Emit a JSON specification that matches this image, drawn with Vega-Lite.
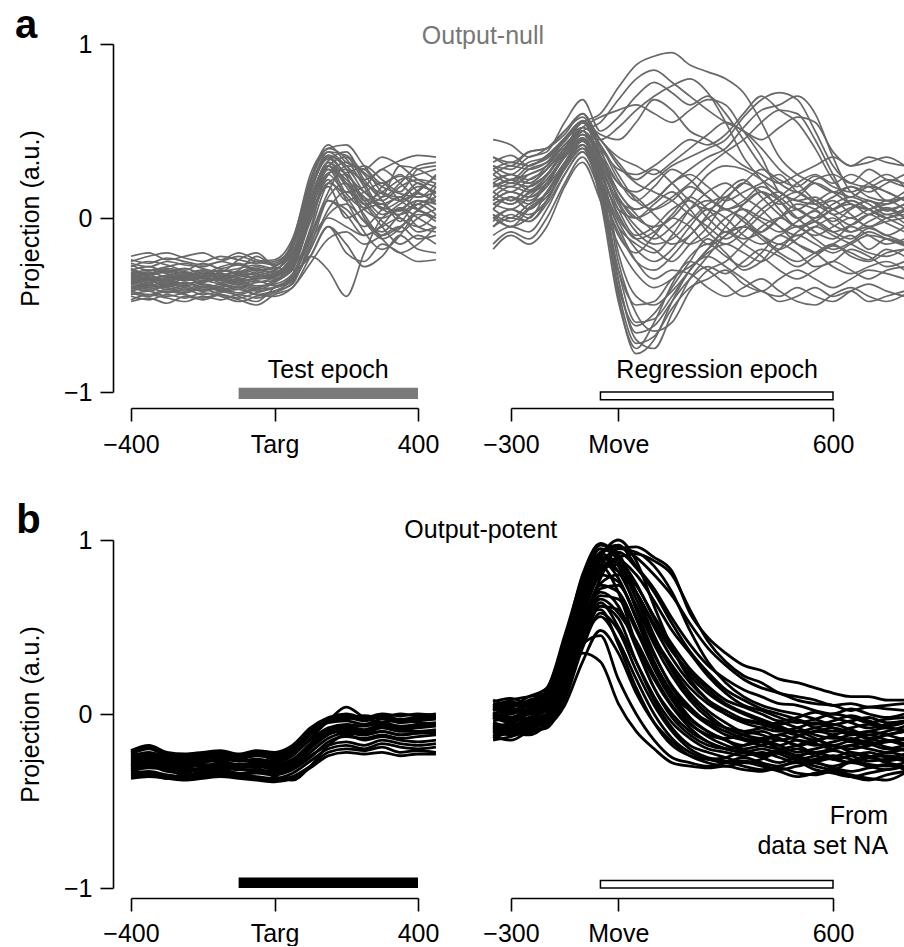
{
  "$schema": "https://vega.github.io/schema/vega-lite/v6.json",
  "background": "white",
  "padding": {"left": 15, "top": 6, "right": 0, "bottom": 0},
  "config": {
    "view": {"stroke": null},
    "font": "Liberation Sans",
    "axis": {
      "grid": false,
      "domainColor": "#000",
      "tickColor": "#000",
      "labelColor": "#000",
      "titleColor": "#000",
      "labelFont": "Liberation Sans",
      "titleFont": "Liberation Sans",
      "labelFontSize": 25,
      "tickSize": 13,
      "domainWidth": 1.6,
      "tickWidth": 1.6,
      "labelFlush": false,
      "labelOverlap": false,
      "titleFontWeight": "normal"
    },
    "text": {"font": "Liberation Sans"}
  },
  "datasets": {
    "gridL": [
      {"k": 1, "t": -400}, {"k": 2, "t": -350}, {"k": 3, "t": -300}, {"k": 4, "t": -250}, {"k": 5, "t": -200}, {"k": 6, "t": -150},
      {"k": 7, "t": -100}, {"k": 8, "t": -50}, {"k": 9, "t": 0}, {"k": 10, "t": 50}, {"k": 11, "t": 100}, {"k": 12, "t": 150},
      {"k": 13, "t": 200}, {"k": 14, "t": 250}, {"k": 15, "t": 300}, {"k": 16, "t": 350}, {"k": 17, "t": 400}, {"k": 18, "t": 450}
    ],
    "gridR": [
      {"k": 1, "t": -350}, {"k": 2, "t": -300}, {"k": 3, "t": -250}, {"k": 4, "t": -200}, {"k": 5, "t": -150}, {"k": 6, "t": -100},
      {"k": 7, "t": -50}, {"k": 8, "t": 0}, {"k": 9, "t": 50}, {"k": 10, "t": 100}, {"k": 11, "t": 150}, {"k": 12, "t": 200},
      {"k": 13, "t": 250}, {"k": 14, "t": 300}, {"k": 15, "t": 350}, {"k": 16, "t": 400}, {"k": 17, "t": 450}, {"k": 18, "t": 500},
      {"k": 19, "t": 550}, {"k": 20, "t": 600}, {"k": 21, "t": 650}, {"k": 22, "t": 700}, {"k": 23, "t": 750}, {"k": 24, "t": 800}
    ],
    "nullTarg": [
      {"id": "n01", "v": [-0.30,-0.33,-0.31,-0.34,-0.30,-0.33,-0.31,-0.28,-0.30,-0.15,0.22,0.38,0.30,0.22,0.28,0.33,0.36,0.35]},
      {"id": "n02", "v": [-0.36,-0.34,-0.38,-0.35,-0.37,-0.34,-0.36,-0.35,-0.33,-0.22,0.15,0.34,0.25,0.15,0.10,0.18,0.22,0.20]},
      {"id": "n03", "v": [-0.40,-0.42,-0.39,-0.41,-0.38,-0.40,-0.43,-0.40,-0.37,-0.28,0.02,0.30,0.35,0.20,0.05,0.02,0.08,0.12]},
      {"id": "n04", "v": [-0.28,-0.25,-0.27,-0.30,-0.26,-0.29,-0.27,-0.30,-0.28,-0.14,0.25,0.40,0.42,0.30,0.20,0.25,0.15,0.10]},
      {"id": "n05", "v": [-0.33,-0.35,-0.33,-0.31,-0.34,-0.36,-0.33,-0.32,-0.35,-0.24,0.10,0.32,0.20,0.05,0.00,0.05,0.10,0.08]},
      {"id": "n06", "v": [-0.45,-0.47,-0.44,-0.46,-0.43,-0.45,-0.48,-0.45,-0.42,-0.35,-0.08,0.20,0.25,0.10,-0.02,-0.08,0.00,0.05]},
      {"id": "n07", "v": [-0.38,-0.36,-0.39,-0.37,-0.40,-0.38,-0.36,-0.39,-0.38,-0.32,-0.06,0.25,0.15,0.18,0.28,0.20,0.12,0.15]},
      {"id": "n08", "v": [-0.25,-0.22,-0.20,-0.23,-0.25,-0.22,-0.24,-0.26,-0.25,-0.16,0.18,0.36,0.28,0.10,0.15,0.22,0.25,0.28]},
      {"id": "n09", "v": [-0.32,-0.30,-0.32,-0.35,-0.33,-0.30,-0.32,-0.34,-0.33,-0.28,-0.12,0.10,0.05,-0.05,0.05,0.12,0.05,0.00]},
      {"id": "n10", "v": [-0.42,-0.40,-0.43,-0.41,-0.44,-0.42,-0.40,-0.44,-0.45,-0.40,-0.26,-0.12,-0.08,-0.15,-0.10,-0.05,-0.12,-0.10]},
      {"id": "n11", "v": [-0.35,-0.37,-0.35,-0.38,-0.36,-0.33,-0.30,-0.22,-0.28,-0.30,-0.22,-0.05,-0.20,-0.25,-0.15,-0.20,-0.25,-0.24]},
      {"id": "n12", "v": [-0.37,-0.35,-0.36,-0.34,-0.38,-0.40,-0.45,-0.48,-0.40,-0.35,-0.22,-0.30,-0.45,-0.20,0.00,0.05,-0.05,-0.08]},
      {"id": "n13", "v": [-0.48,-0.46,-0.49,-0.45,-0.47,-0.44,-0.46,-0.43,-0.40,-0.36,-0.18,0.05,0.15,0.08,-0.05,-0.15,-0.10,-0.15]},
      {"id": "n14", "v": [-0.30,-0.28,-0.31,-0.29,-0.32,-0.28,-0.26,-0.30,-0.31,-0.22,0.12,0.30,0.18,0.02,-0.10,-0.05,0.02,0.00]},
      {"id": "n15", "v": [-0.34,-0.32,-0.30,-0.33,-0.31,-0.35,-0.37,-0.34,-0.32,-0.26,0.05,0.25,0.32,0.25,0.10,0.00,-0.05,0.02]},
      {"id": "n16", "v": [-0.27,-0.30,-0.28,-0.26,-0.29,-0.31,-0.24,-0.20,-0.27,-0.20,0.08,0.28,0.10,-0.08,-0.18,-0.10,0.05,0.10]},
      {"id": "n17", "v": [-0.39,-0.41,-0.38,-0.40,-0.42,-0.39,-0.37,-0.40,-0.36,-0.30,0.00,0.22,0.10,0.15,0.20,0.10,0.05,0.18]},
      {"id": "n18", "v": [-0.44,-0.42,-0.45,-0.43,-0.41,-0.44,-0.47,-0.50,-0.44,-0.40,-0.22,-0.05,-0.15,-0.28,-0.22,-0.10,-0.18,-0.20]},
      {"id": "n19", "v": [-0.31,-0.34,-0.36,-0.33,-0.35,-0.32,-0.35,-0.33,-0.30,-0.18,0.16,0.35,0.24,0.08,0.12,0.30,0.28,0.22]},
      {"id": "n20", "v": [-0.36,-0.38,-0.34,-0.36,-0.33,-0.37,-0.35,-0.37,-0.34,-0.28,0.02,0.18,0.00,0.05,0.08,-0.02,0.10,0.05]},
      {"id": "n21", "v": [-0.22,-0.20,-0.24,-0.22,-0.20,-0.24,-0.20,-0.24,-0.26,-0.14,0.20,0.40,0.34,0.18,0.05,0.10,0.18,0.15]},
      {"id": "n22", "v": [-0.41,-0.39,-0.40,-0.42,-0.39,-0.41,-0.39,-0.42,-0.40,-0.36,-0.16,0.12,0.20,0.00,-0.12,-0.20,-0.15,-0.05]},
      {"id": "n23", "v": [-0.33,-0.31,-0.34,-0.32,-0.30,-0.34,-0.32,-0.29,-0.32,-0.24,0.08,0.30,0.22,0.12,0.02,0.08,0.15,0.25]},
      {"id": "n24", "v": [-0.38,-0.40,-0.37,-0.39,-0.37,-0.35,-0.38,-0.36,-0.39,-0.33,-0.10,0.15,0.30,0.28,0.15,0.12,0.20,0.12]},
      {"id": "n25", "v": [-0.29,-0.32,-0.30,-0.32,-0.34,-0.31,-0.29,-0.27,-0.29,-0.20,0.10,0.33,0.38,0.22,0.12,0.20,0.30,0.32]},
      {"id": "n26", "v": [-0.43,-0.45,-0.42,-0.44,-0.46,-0.43,-0.41,-0.44,-0.42,-0.38,-0.14,0.00,-0.05,-0.10,-0.05,0.00,-0.08,-0.05]},
      {"id": "n27", "v": [-0.35,-0.33,-0.36,-0.34,-0.32,-0.35,-0.33,-0.35,-0.34,-0.22,0.14,0.36,0.30,0.20,0.14,0.10,0.16,0.24]},
      {"id": "n28", "v": [-0.26,-0.28,-0.25,-0.27,-0.28,-0.25,-0.27,-0.25,-0.24,-0.12,0.22,0.42,0.32,0.28,0.35,0.30,0.22,0.18]},
      {"id": "n29", "v": [-0.40,-0.38,-0.41,-0.39,-0.42,-0.40,-0.38,-0.41,-0.37,-0.27,0.04,0.26,0.28,0.15,0.08,0.12,0.05,-0.02]},
      {"id": "n30", "v": [-0.32,-0.35,-0.33,-0.36,-0.34,-0.32,-0.34,-0.31,-0.33,-0.23,0.08,0.30,0.14,0.06,0.18,0.24,0.20,0.14]},
      {"id": "n31", "v": [-0.47,-0.44,-0.46,-0.48,-0.45,-0.47,-0.44,-0.46,-0.43,-0.37,-0.18,0.02,0.08,-0.02,-0.12,-0.06,0.04,0.00]},
      {"id": "n32", "v": [-0.30,-0.32,-0.29,-0.31,-0.33,-0.30,-0.32,-0.30,-0.31,-0.21,0.10,0.32,0.26,0.30,0.22,0.15,0.28,0.30]},
      {"id": "n33", "v": [-0.37,-0.39,-0.36,-0.38,-0.36,-0.38,-0.40,-0.37,-0.36,-0.29,-0.02,0.20,0.12,-0.02,-0.08,0.02,0.08,0.02]},
      {"id": "n34", "v": [-0.24,-0.26,-0.23,-0.25,-0.27,-0.25,-0.22,-0.25,-0.27,-0.17,0.16,0.38,0.36,0.26,0.18,0.14,0.12,0.20]},
      {"id": "n35", "v": [-0.42,-0.44,-0.41,-0.43,-0.40,-0.42,-0.44,-0.41,-0.40,-0.34,-0.12,0.10,0.02,-0.10,-0.04,0.06,0.00,-0.06]},
      {"id": "n36", "v": [-0.34,-0.36,-0.35,-0.33,-0.36,-0.34,-0.31,-0.33,-0.35,-0.25,0.06,0.28,0.20,0.12,0.06,0.04,0.14,0.08]}
    ],
    "nullMove": [
      {"id": "u1", "v": [0.20,0.25,0.22,0.30,0.45,0.55,0.60,0.75,0.88,0.93,0.95,0.88,0.84,0.80,0.72,0.55,0.35,0.25,0.20,0.15,0.18,0.12,0.10,0.15]},
      {"id": "u2", "v": [0.15,0.10,0.18,0.25,0.40,0.50,0.55,0.68,0.80,0.85,0.78,0.70,0.62,0.55,0.50,0.40,0.28,0.20,0.10,0.05,0.10,0.05,0.00,0.05]},
      {"id": "u3", "v": [0.30,0.28,0.35,0.38,0.55,0.68,0.50,0.58,0.70,0.78,0.72,0.65,0.70,0.60,0.45,0.30,0.20,0.15,0.22,0.25,0.20,0.28,0.22,0.18]},
      {"id": "u4", "v": [0.05,0.12,0.08,0.20,0.35,0.48,0.45,0.52,0.62,0.70,0.76,0.80,0.72,0.55,0.35,0.22,0.10,0.00,0.05,0.10,0.02,-0.05,0.00,0.02]},
      {"id": "u5", "v": [0.25,0.20,0.28,0.32,0.42,0.52,0.58,0.62,0.65,0.60,0.55,0.62,0.68,0.65,0.50,0.35,0.15,0.10,0.08,0.12,0.18,0.15,0.20,0.25]},
      {"id": "u6", "v": [0.10,0.15,0.12,0.18,0.38,0.55,0.48,0.45,0.55,0.68,0.62,0.50,0.45,0.38,0.30,0.25,0.20,0.25,0.30,0.35,0.30,0.32,0.35,0.30]},
      {"id": "v1", "v": [0.18,0.22,0.20,0.28,0.40,0.50,0.35,0.20,0.15,0.22,0.30,0.35,0.40,0.45,0.58,0.68,0.72,0.68,0.50,0.30,0.20,0.18,0.22,0.20]},
      {"id": "v2", "v": [0.08,0.05,0.12,0.22,0.35,0.45,0.30,0.10,0.05,0.10,0.20,0.28,0.35,0.40,0.52,0.62,0.65,0.70,0.60,0.35,0.15,0.10,0.08,0.12]},
      {"id": "v3", "v": [0.28,0.32,0.30,0.35,0.45,0.55,0.40,0.28,0.25,0.30,0.38,0.45,0.42,0.48,0.60,0.70,0.62,0.55,0.40,0.22,0.12,0.18,0.15,0.10]},
      {"id": "v4", "v": [-0.02,0.05,0.00,0.15,0.30,0.42,0.25,0.05,0.00,0.05,0.12,0.20,0.30,0.38,0.45,0.55,0.62,0.60,0.45,0.25,0.08,0.05,0.10,0.05]},
      {"id": "v5", "v": [0.35,0.30,0.38,0.40,0.48,0.60,0.45,0.35,0.30,0.25,0.32,0.40,0.48,0.55,0.50,0.45,0.52,0.58,0.55,0.38,0.30,0.35,0.32,0.30]},
      {"id": "m1", "v": [0.12,0.18,0.15,0.22,0.35,0.45,0.30,0.05,-0.10,-0.05,0.05,0.10,0.00,-0.08,0.00,0.10,0.15,0.05,0.00,0.05,0.08,0.02,0.05,0.00]},
      {"id": "m2", "v": [0.00,-0.05,0.05,0.12,0.28,0.40,0.20,-0.05,-0.15,-0.20,-0.10,0.05,0.15,0.20,0.12,0.05,-0.05,-0.10,-0.05,0.00,-0.08,-0.05,-0.10,-0.05]},
      {"id": "m3", "v": [0.22,0.25,0.20,0.28,0.40,0.48,0.35,0.15,0.05,0.10,0.20,0.25,0.18,0.10,0.15,0.20,0.25,0.15,0.10,0.15,0.12,0.18,0.10,0.12]},
      {"id": "m4", "v": [0.45,0.42,0.35,0.40,0.50,0.58,0.40,0.10,-0.05,-0.12,-0.05,0.05,0.10,0.05,0.00,-0.08,0.00,0.08,0.05,-0.02,0.05,0.10,0.05,0.08]},
      {"id": "m5", "v": [-0.10,-0.05,-0.08,0.05,0.25,0.38,0.18,-0.10,-0.20,-0.10,0.00,-0.05,-0.15,-0.05,0.08,0.15,0.10,0.00,-0.08,-0.12,-0.05,-0.10,-0.15,-0.12]},
      {"id": "m6", "v": [0.15,0.10,0.18,0.25,0.38,0.50,0.38,0.20,0.12,0.02,-0.08,-0.15,-0.10,0.00,0.05,0.00,-0.05,-0.15,-0.20,-0.15,-0.10,-0.18,-0.12,-0.15]},
      {"id": "m7", "v": [0.05,0.12,0.10,0.18,0.32,0.45,0.28,0.00,-0.12,-0.18,-0.25,-0.15,-0.05,0.10,0.20,0.15,0.08,0.12,0.20,0.15,0.08,0.05,0.00,-0.05]},
      {"id": "m8", "v": [0.30,0.25,0.32,0.35,0.45,0.52,0.45,0.30,0.20,0.15,0.10,0.02,-0.05,-0.12,-0.05,0.05,0.12,0.20,0.25,0.20,0.25,0.20,0.15,0.10]},
      {"id": "m9", "v": [-0.15,-0.08,-0.12,0.00,0.20,0.35,0.15,-0.08,-0.25,-0.30,-0.22,-0.10,0.00,0.05,-0.02,-0.10,-0.18,-0.12,-0.05,-0.10,-0.15,-0.20,-0.22,-0.18]},
      {"id": "m10", "v": [0.18,0.22,0.25,0.30,0.42,0.50,0.32,0.12,0.00,-0.05,0.00,0.12,0.25,0.30,0.28,0.22,0.15,0.10,0.12,0.05,0.00,0.05,0.08,0.12]},
      {"id": "m11", "v": [0.20,0.15,0.22,0.28,0.40,0.52,0.42,0.25,0.10,0.05,0.10,0.18,0.12,0.05,0.10,0.18,0.12,0.05,0.10,0.02,0.06,0.10,0.04,0.08]},
      {"id": "m12", "v": [0.08,0.12,0.05,0.15,0.32,0.46,0.30,0.08,-0.08,-0.15,-0.12,-0.02,0.08,0.12,0.05,-0.02,-0.08,-0.02,0.04,-0.04,-0.08,-0.02,0.02,-0.03]},
      {"id": "m13", "v": [0.28,0.22,0.30,0.34,0.44,0.55,0.42,0.22,0.10,0.18,0.28,0.22,0.12,0.05,0.08,0.15,0.05,-0.05,-0.02,0.05,0.10,0.05,0.00,0.04]},
      {"id": "m14", "v": [-0.05,0.02,-0.02,0.10,0.30,0.44,0.26,0.02,-0.12,-0.08,0.02,0.12,0.05,-0.05,-0.12,-0.08,0.00,0.05,-0.02,-0.08,-0.04,0.02,-0.03,-0.08]},
      {"id": "m15", "v": [0.15,0.20,0.18,0.25,0.38,0.50,0.36,0.15,0.02,-0.08,-0.15,-0.10,0.02,0.15,0.22,0.12,0.02,-0.05,0.00,0.08,0.12,0.08,0.02,0.05]},
      {"id": "m16", "v": [0.32,0.36,0.30,0.36,0.46,0.56,0.45,0.32,0.22,0.28,0.20,0.10,0.05,0.12,0.20,0.28,0.22,0.18,0.24,0.18,0.15,0.20,0.25,0.18]},
      {"id": "m17", "v": [0.02,-0.02,0.06,0.14,0.30,0.42,0.22,-0.02,-0.18,-0.25,-0.18,-0.05,0.05,0.00,-0.10,-0.15,-0.10,-0.05,-0.12,-0.18,-0.14,-0.08,-0.12,-0.16]},
      {"id": "m18", "v": [0.12,0.08,0.14,0.20,0.36,0.48,0.34,0.12,0.00,0.08,0.15,0.05,-0.08,-0.15,-0.08,0.02,0.10,0.15,0.08,0.02,-0.04,0.02,0.06,0.00]},
      {"id": "d1", "v": [0.10,0.15,0.12,0.20,0.35,0.45,0.20,-0.45,-0.78,-0.70,-0.48,-0.30,-0.20,-0.15,-0.20,-0.25,-0.18,-0.10,-0.15,-0.20,-0.15,-0.10,-0.12,-0.15]},
      {"id": "d2", "v": [0.20,0.18,0.25,0.30,0.42,0.50,0.25,-0.35,-0.70,-0.75,-0.55,-0.35,-0.22,-0.10,-0.05,-0.12,-0.20,-0.25,-0.20,-0.15,-0.22,-0.25,-0.20,-0.18]},
      {"id": "d3", "v": [0.00,0.05,0.02,0.10,0.28,0.40,0.12,-0.40,-0.62,-0.55,-0.40,-0.25,-0.12,-0.20,-0.30,-0.25,-0.15,-0.20,-0.28,-0.25,-0.18,-0.22,-0.28,-0.25]},
      {"id": "d4", "v": [0.25,0.30,0.28,0.32,0.45,0.55,0.30,-0.25,-0.55,-0.65,-0.60,-0.42,-0.30,-0.25,-0.15,-0.05,0.00,-0.05,-0.10,-0.05,0.00,-0.05,-0.02,0.00]},
      {"id": "d5", "v": [0.12,0.08,0.15,0.22,0.36,0.46,0.18,-0.42,-0.72,-0.68,-0.52,-0.40,-0.35,-0.30,-0.38,-0.42,-0.35,-0.30,-0.35,-0.40,-0.35,-0.30,-0.32,-0.35]},
      {"id": "d6", "v": [-0.05,0.00,-0.02,0.08,0.25,0.38,0.15,-0.30,-0.50,-0.48,-0.35,-0.28,-0.22,-0.28,-0.35,-0.42,-0.45,-0.40,-0.45,-0.48,-0.42,-0.38,-0.42,-0.45]},
      {"id": "d7", "v": [0.35,0.32,0.38,0.40,0.50,0.60,0.35,-0.20,-0.45,-0.50,-0.42,-0.30,-0.18,-0.08,-0.15,-0.22,-0.30,-0.35,-0.30,-0.25,-0.30,-0.35,-0.30,-0.28]},
      {"id": "d8", "v": [0.08,0.12,0.05,0.15,0.30,0.42,0.10,-0.48,-0.75,-0.60,-0.38,-0.22,-0.15,-0.22,-0.28,-0.20,-0.10,-0.15,-0.20,-0.28,-0.32,-0.28,-0.25,-0.30]},
      {"id": "d9", "v": [0.18,0.22,0.16,0.24,0.38,0.48,0.22,-0.30,-0.60,-0.58,-0.45,-0.30,-0.18,-0.10,-0.05,-0.10,-0.15,-0.08,-0.02,-0.08,-0.12,-0.06,-0.10,-0.14]},
      {"id": "d10", "v": [0.05,0.00,0.08,0.14,0.30,0.42,0.16,-0.36,-0.66,-0.62,-0.48,-0.35,-0.28,-0.32,-0.25,-0.18,-0.22,-0.28,-0.22,-0.16,-0.20,-0.24,-0.18,-0.22]},
      {"id": "b1", "v": [-0.18,-0.10,-0.15,-0.05,0.18,0.32,0.10,-0.15,-0.32,-0.40,-0.35,-0.25,-0.30,-0.38,-0.45,-0.42,-0.48,-0.45,-0.40,-0.45,-0.42,-0.48,-0.45,-0.42]},
      {"id": "b2", "v": [0.02,-0.05,0.00,0.10,0.30,0.45,0.22,-0.05,-0.25,-0.35,-0.30,-0.32,-0.40,-0.45,-0.40,-0.35,-0.42,-0.48,-0.50,-0.44,-0.40,-0.45,-0.48,-0.44]}
    ],
    "potentTarg": [
      {"id": "p01", "v": [-0.21,-0.18,-0.22,-0.23,-0.22,-0.21,-0.23,-0.21,-0.22,-0.18,-0.08,-0.02,0.00,-0.02,0.00,-0.01,0.00,-0.01]},
      {"id": "p02", "v": [-0.25,-0.23,-0.26,-0.27,-0.25,-0.24,-0.26,-0.24,-0.25,-0.22,-0.12,-0.05,-0.04,-0.06,-0.03,-0.05,-0.04,-0.03]},
      {"id": "p03", "v": [-0.30,-0.28,-0.30,-0.31,-0.29,-0.30,-0.31,-0.29,-0.30,-0.27,-0.18,-0.10,-0.08,-0.10,-0.07,-0.09,-0.08,-0.07]},
      {"id": "p04", "v": [-0.34,-0.33,-0.35,-0.36,-0.34,-0.33,-0.35,-0.34,-0.35,-0.32,-0.25,-0.16,-0.13,-0.14,-0.12,-0.14,-0.13,-0.12]},
      {"id": "p05", "v": [-0.36,-0.35,-0.37,-0.37,-0.36,-0.35,-0.36,-0.37,-0.38,-0.36,-0.30,-0.22,-0.20,-0.21,-0.19,-0.22,-0.21,-0.22]},
      {"id": "p06", "v": [-0.27,-0.25,-0.28,-0.29,-0.28,-0.26,-0.27,-0.27,-0.28,-0.24,-0.14,-0.04,0.04,-0.02,-0.05,-0.03,-0.05,-0.06]},
      {"id": "p07", "v": [-0.23,-0.20,-0.24,-0.25,-0.24,-0.22,-0.24,-0.22,-0.24,-0.20,-0.10,-0.03,-0.02,-0.04,-0.01,-0.03,-0.02,-0.02]},
      {"id": "p08", "v": [-0.32,-0.30,-0.33,-0.34,-0.31,-0.31,-0.32,-0.32,-0.33,-0.30,-0.22,-0.14,-0.11,-0.12,-0.10,-0.12,-0.11,-0.10]},
      {"id": "p09", "v": [-0.29,-0.27,-0.29,-0.30,-0.30,-0.28,-0.30,-0.31,-0.36,-0.38,-0.30,-0.18,-0.12,-0.15,-0.13,-0.15,-0.16,-0.15]},
      {"id": "p10", "v": [-0.26,-0.24,-0.27,-0.28,-0.26,-0.25,-0.27,-0.26,-0.27,-0.23,-0.15,-0.08,-0.06,-0.07,-0.05,-0.07,-0.06,-0.05]},
      {"id": "p11", "v": [-0.33,-0.31,-0.32,-0.35,-0.33,-0.32,-0.34,-0.33,-0.34,-0.31,-0.24,-0.18,-0.16,-0.18,-0.15,-0.17,-0.18,-0.17]},
      {"id": "p12", "v": [-0.24,-0.22,-0.25,-0.26,-0.25,-0.23,-0.25,-0.23,-0.26,-0.21,-0.11,-0.04,-0.03,-0.01,-0.02,0.00,-0.01,0.00]},
      {"id": "p13", "v": [-0.31,-0.29,-0.31,-0.33,-0.32,-0.30,-0.31,-0.30,-0.32,-0.29,-0.20,-0.12,-0.09,-0.11,-0.08,-0.10,-0.10,-0.09]},
      {"id": "p14", "v": [-0.35,-0.34,-0.36,-0.36,-0.35,-0.34,-0.35,-0.36,-0.37,-0.34,-0.27,-0.20,-0.18,-0.20,-0.17,-0.19,-0.20,-0.19]},
      {"id": "p15", "v": [-0.28,-0.26,-0.28,-0.30,-0.27,-0.27,-0.29,-0.28,-0.29,-0.26,-0.17,-0.09,-0.07,-0.09,-0.06,-0.08,-0.07,-0.06]},
      {"id": "p16", "v": [-0.22,-0.19,-0.23,-0.24,-0.23,-0.22,-0.24,-0.22,-0.23,-0.19,-0.09,-0.03,-0.01,-0.03,-0.02,-0.04,-0.03,-0.02]},
      {"id": "p17", "v": [-0.37,-0.36,-0.37,-0.38,-0.37,-0.36,-0.37,-0.38,-0.39,-0.37,-0.31,-0.24,-0.22,-0.23,-0.22,-0.24,-0.23,-0.23]},
      {"id": "p18", "v": [-0.30,-0.29,-0.31,-0.32,-0.31,-0.29,-0.30,-0.30,-0.31,-0.28,-0.19,-0.11,-0.10,-0.12,-0.10,-0.12,-0.11,-0.11]}
    ],
    "potentMove": [
      {"id": "r01", "v": [-0.05,-0.08,-0.03,0.00,0.15,0.35,0.30,0.06,-0.10,-0.20,-0.28,-0.30,-0.31,-0.30,-0.32,-0.33,-0.31,-0.34,-0.35,-0.33,-0.36,-0.38,-0.35,-0.33]},
      {"id": "r02", "v": [-0.10,-0.12,-0.08,-0.05,0.12,0.40,0.45,0.20,0.00,-0.15,-0.25,-0.28,-0.30,-0.28,-0.25,-0.28,-0.30,-0.27,-0.30,-0.32,-0.28,-0.30,-0.32,-0.30]},
      {"id": "r03", "v": [0.00,-0.03,0.02,0.05,0.25,0.55,0.60,0.40,0.15,-0.05,-0.18,-0.24,-0.26,-0.25,-0.22,-0.25,-0.28,-0.24,-0.22,-0.26,-0.28,-0.25,-0.22,-0.24]},
      {"id": "r04", "v": [-0.15,-0.13,-0.10,-0.08,0.10,0.42,0.62,0.55,0.30,0.08,-0.08,-0.18,-0.22,-0.25,-0.28,-0.26,-0.22,-0.25,-0.28,-0.30,-0.27,-0.25,-0.28,-0.30]},
      {"id": "r05", "v": [0.05,0.08,0.10,0.12,0.35,0.70,0.85,0.70,0.40,0.15,-0.02,-0.12,-0.18,-0.20,-0.18,-0.15,-0.18,-0.22,-0.20,-0.18,-0.22,-0.25,-0.22,-0.20]},
      {"id": "r06", "v": [0.08,0.05,0.10,0.15,0.45,0.78,0.97,0.92,0.70,0.45,0.25,0.10,0.00,-0.08,-0.12,-0.15,-0.12,-0.10,-0.14,-0.18,-0.15,-0.12,-0.15,-0.18]},
      {"id": "r07", "v": [-0.02,0.00,0.03,0.08,0.30,0.65,0.90,1.00,0.88,0.62,0.38,0.20,0.08,0.00,-0.05,-0.08,-0.10,-0.08,-0.05,-0.08,-0.12,-0.10,-0.08,-0.10]},
      {"id": "r08", "v": [-0.08,-0.05,-0.02,0.02,0.22,0.55,0.82,0.90,0.92,0.88,0.80,0.60,0.42,0.30,0.22,0.18,0.12,0.10,0.08,0.05,0.06,0.04,0.05,0.06]},
      {"id": "r09", "v": [0.03,0.00,0.05,0.10,0.28,0.60,0.85,0.95,0.96,0.90,0.82,0.58,0.44,0.35,0.28,0.25,0.20,0.18,0.15,0.12,0.10,0.10,0.08,0.08]},
      {"id": "r10", "v": [-0.12,-0.10,-0.08,-0.04,0.18,0.50,0.75,0.80,0.70,0.50,0.32,0.18,0.08,0.02,-0.03,-0.05,-0.08,-0.12,-0.15,-0.12,-0.10,-0.14,-0.16,-0.14]},
      {"id": "r11", "v": [0.06,0.04,0.08,0.12,0.40,0.75,0.92,0.85,0.60,0.35,0.15,0.02,-0.06,-0.12,-0.15,-0.18,-0.20,-0.18,-0.15,-0.18,-0.20,-0.18,-0.15,-0.17]},
      {"id": "r12", "v": [-0.06,-0.09,-0.04,0.00,0.20,0.52,0.70,0.62,0.38,0.15,0.00,-0.10,-0.16,-0.20,-0.22,-0.24,-0.22,-0.20,-0.24,-0.26,-0.24,-0.22,-0.25,-0.27]},
      {"id": "r13", "v": [-0.14,-0.11,-0.12,-0.06,0.08,0.38,0.58,0.48,0.25,0.05,-0.10,-0.20,-0.25,-0.27,-0.30,-0.32,-0.30,-0.28,-0.32,-0.34,-0.36,-0.34,-0.32,-0.30]},
      {"id": "r14", "v": [0.02,0.06,0.04,0.10,0.32,0.68,0.88,0.78,0.55,0.30,0.12,0.02,-0.04,-0.08,-0.10,-0.12,-0.15,-0.13,-0.10,-0.12,-0.16,-0.15,-0.12,-0.10]},
      {"id": "r15", "v": [-0.04,-0.02,0.00,0.04,0.26,0.60,0.80,0.88,0.80,0.65,0.48,0.35,0.22,0.12,0.05,0.02,-0.02,-0.05,-0.03,0.00,-0.02,-0.05,-0.03,-0.02]},
      {"id": "r16", "v": [0.00,-0.04,0.02,0.06,0.22,0.52,0.78,0.95,0.93,0.85,0.70,0.48,0.30,0.18,0.10,0.05,0.02,0.00,-0.03,-0.06,-0.04,-0.02,-0.05,-0.04]},
      {"id": "r17", "v": [-0.09,-0.06,-0.05,0.00,0.16,0.48,0.66,0.58,0.42,0.22,0.05,-0.06,-0.12,-0.15,-0.20,-0.18,-0.15,-0.18,-0.22,-0.20,-0.18,-0.20,-0.22,-0.20]},
      {"id": "r18", "v": [0.07,0.09,0.06,0.14,0.42,0.80,0.98,0.90,0.75,0.55,0.38,0.22,0.12,0.05,0.00,-0.04,-0.06,-0.04,-0.08,-0.10,-0.08,-0.06,-0.08,-0.09]},
      {"id": "r19", "v": [-0.13,-0.15,-0.10,-0.07,0.05,0.30,0.48,0.35,0.12,-0.05,-0.16,-0.24,-0.28,-0.30,-0.28,-0.30,-0.33,-0.36,-0.34,-0.32,-0.35,-0.37,-0.38,-0.34]},
      {"id": "r20", "v": [-0.03,0.02,0.00,0.07,0.28,0.62,0.86,0.82,0.62,0.40,0.22,0.08,-0.02,-0.08,-0.12,-0.14,-0.12,-0.15,-0.18,-0.16,-0.14,-0.17,-0.20,-0.18]},
      {"id": "r21", "v": [0.04,0.01,0.06,0.09,0.36,0.72,0.93,0.97,0.85,0.72,0.55,0.40,0.28,0.20,0.14,0.10,0.06,0.05,0.02,0.00,0.03,0.00,-0.02,0.00]},
      {"id": "r22", "v": [-0.07,-0.10,-0.06,-0.02,0.14,0.46,0.72,0.74,0.55,0.30,0.12,-0.02,-0.10,-0.15,-0.18,-0.16,-0.20,-0.24,-0.22,-0.25,-0.28,-0.25,-0.24,-0.26]},
      {"id": "r23", "v": [-0.11,-0.08,-0.09,-0.03,0.12,0.44,0.64,0.50,0.30,0.10,-0.05,-0.14,-0.20,-0.22,-0.24,-0.22,-0.25,-0.28,-0.26,-0.24,-0.26,-0.29,-0.30,-0.28]},
      {"id": "r24", "v": [0.01,-0.02,0.03,0.07,0.30,0.66,0.92,0.96,0.90,0.80,0.68,0.52,0.38,0.28,0.20,0.15,0.12,0.08,0.06,0.05,0.02,0.04,0.03,0.02]},
      {"id": "r25", "v": [-0.05,-0.07,-0.02,0.03,0.20,0.50,0.74,0.70,0.50,0.28,0.10,-0.03,-0.10,-0.14,-0.12,-0.10,-0.14,-0.18,-0.16,-0.13,-0.15,-0.18,-0.16,-0.14]},
      {"id": "r26", "v": [0.03,0.05,0.07,0.11,0.34,0.70,0.90,0.82,0.62,0.42,0.26,0.12,0.02,-0.05,-0.10,-0.08,-0.05,-0.08,-0.12,-0.14,-0.12,-0.10,-0.12,-0.15]},
      {"id": "r27", "v": [-0.02,-0.05,0.00,0.04,0.24,0.58,0.80,0.76,0.56,0.34,0.16,0.04,-0.05,-0.10,-0.14,-0.16,-0.18,-0.15,-0.17,-0.20,-0.18,-0.16,-0.19,-0.21]},
      {"id": "r28", "v": [0.05,0.02,0.07,0.12,0.38,0.74,0.95,0.88,0.66,0.44,0.28,0.15,0.06,0.00,-0.04,-0.06,-0.09,-0.12,-0.10,-0.08,-0.11,-0.14,-0.12,-0.10]},
      {"id": "r29", "v": [-0.10,-0.07,-0.06,-0.01,0.15,0.47,0.68,0.66,0.48,0.26,0.08,-0.05,-0.13,-0.18,-0.21,-0.23,-0.21,-0.24,-0.27,-0.25,-0.22,-0.24,-0.27,-0.25]},
      {"id": "r30", "v": [0.00,0.03,0.01,0.08,0.30,0.64,0.88,0.93,0.84,0.70,0.52,0.36,0.24,0.14,0.08,0.03,0.00,-0.03,-0.06,-0.04,-0.01,-0.04,-0.07,-0.05]},
      {"id": "r31", "v": [-0.08,-0.11,-0.07,-0.03,0.13,0.42,0.56,0.42,0.20,0.00,-0.14,-0.22,-0.26,-0.28,-0.27,-0.29,-0.32,-0.30,-0.28,-0.31,-0.33,-0.31,-0.29,-0.32]},
      {"id": "r32", "v": [0.04,0.07,0.05,0.10,0.33,0.69,0.90,0.86,0.70,0.52,0.36,0.24,0.14,0.06,0.01,-0.03,-0.07,-0.10,-0.08,-0.06,-0.09,-0.12,-0.10,-0.07]},
      {"id": "r33", "v": [-0.13,-0.10,-0.11,-0.05,0.10,0.40,0.62,0.60,0.40,0.20,0.04,-0.08,-0.16,-0.20,-0.22,-0.20,-0.23,-0.26,-0.24,-0.21,-0.24,-0.27,-0.26,-0.23]},
      {"id": "r34", "v": [-0.01,-0.04,0.01,0.05,0.27,0.62,0.84,0.86,0.74,0.56,0.40,0.26,0.16,0.08,0.04,0.00,-0.04,-0.02,0.01,-0.02,-0.05,-0.08,-0.06,-0.04]}
    ]
  },
  "columns": 2,
  "bounds": "flush",
  "spacing": {"row": 148, "column": 93},
  "concat": [
    {
      "width": 287,
      "height": 348,
      "layer": [
        {
          "data": {"name": "nullTarg"},
          "transform": [
            {"flatten": ["v"]},
            {"window": [{"op": "row_number", "as": "k"}], "groupby": ["id"]},
            {"lookup": "k", "from": {"data": {"name": "gridL"}, "key": "k", "fields": ["t"]}}
          ],
          "mark": {"type": "line", "interpolate": "monotone", "color": "#686868", "strokeWidth": 1.7},
          "encoding": {
            "x": {"field": "t", "type": "quantitative", "scale": {"domain": [-400, 400], "nice": false},
                  "axis": {"values": [-400, 0, 400], "labelExpr": "datum.value === 0 ? 'Targ' : datum.label", "title": null, "offset": 16, "labelPadding": 11}},
            "y": {"field": "v", "type": "quantitative", "scale": {"domain": [-1, 1], "nice": false},
                  "axis": {"values": [-1, 0, 1], "format": ".0f", "title": "Projection (a.u.)", "offset": 18, "labelPadding": 8, "titleFontSize": 25, "titlePadding": 20}},
            "detail": {"field": "id"}
          }
        },
        {
          "data": {"values": [{"t0": -100, "t1": 400}]},
          "mark": {"type": "rect", "color": "#7a7a7a"},
          "encoding": {"x": {"field": "t0", "type": "quantitative"}, "x2": {"field": "t1"}, "y": {"datum": -0.975}, "y2": {"datum": -1.04}}
        },
        {
          "data": {"values": [{}]},
          "mark": {"type": "text", "text": "Test epoch", "fontSize": 25, "baseline": "alphabetic", "align": "center", "color": "#000"},
          "encoding": {"x": {"datum": 150}, "y": {"datum": -0.92}}
        },
        {
          "data": {"values": [{}]},
          "mark": {"type": "text", "text": "Output-null", "fontSize": 25, "baseline": "alphabetic", "align": "center", "color": "#777"},
          "encoding": {"x": {"datum": 581}, "y": {"datum": 1.0}}
        },
        {
          "data": {"values": [{}]},
          "mark": {"type": "text", "text": "a", "fontSize": 40, "fontWeight": "bold", "baseline": "alphabetic", "align": "left", "color": "#000"},
          "encoding": {"x": {"datum": -723}, "y": {"datum": 1.034}}
        }
      ]
    },
    {
      "width": 322,
      "height": 348,
      "layer": [
        {
          "data": {"name": "nullMove"},
          "transform": [
            {"flatten": ["v"]},
            {"window": [{"op": "row_number", "as": "k"}], "groupby": ["id"]},
            {"lookup": "k", "from": {"data": {"name": "gridR"}, "key": "k", "fields": ["t"]}}
          ],
          "mark": {"type": "line", "interpolate": "monotone", "color": "#686868", "strokeWidth": 1.7},
          "encoding": {
            "x": {"field": "t", "type": "quantitative", "scale": {"domain": [-300, 600], "nice": false},
                  "axis": {"values": [-300, 0, 600], "labelExpr": "datum.value === 0 ? 'Move' : datum.label", "title": null, "offset": 16, "labelPadding": 11}},
            "y": {"field": "v", "type": "quantitative", "scale": {"domain": [-1, 1], "nice": false}, "axis": null},
            "detail": {"field": "id"}
          }
        },
        {
          "data": {"values": [{"t0": -50, "t1": 600}]},
          "mark": {"type": "rect", "fill": "#fff", "stroke": "#000", "strokeWidth": 1.5},
          "encoding": {"x": {"field": "t0", "type": "quantitative"}, "x2": {"field": "t1"}, "y": {"datum": -1.0}, "y2": {"datum": -1.045}}
        },
        {
          "data": {"values": [{}]},
          "mark": {"type": "text", "text": "Regression epoch", "fontSize": 25, "baseline": "alphabetic", "align": "center", "color": "#000"},
          "encoding": {"x": {"datum": 276}, "y": {"datum": -0.92}}
        }
      ]
    },
    {
      "width": 287,
      "height": 348,
      "layer": [
        {
          "data": {"name": "potentTarg"},
          "transform": [
            {"flatten": ["v"]},
            {"window": [{"op": "row_number", "as": "k"}], "groupby": ["id"]},
            {"lookup": "k", "from": {"data": {"name": "gridL"}, "key": "k", "fields": ["t"]}}
          ],
          "mark": {"type": "line", "interpolate": "monotone", "color": "#000", "strokeWidth": 2.8},
          "encoding": {
            "x": {"field": "t", "type": "quantitative", "scale": {"domain": [-400, 400], "nice": false},
                  "axis": {"values": [-400, 0, 400], "labelExpr": "datum.value === 0 ? 'Targ' : datum.label", "title": null, "offset": 10, "labelPadding": 10}},
            "y": {"field": "v", "type": "quantitative", "scale": {"domain": [-1, 1], "nice": false},
                  "axis": {"values": [-1, 0, 1], "format": ".0f", "title": "Projection (a.u.)", "offset": 18, "labelPadding": 8, "titleFontSize": 25, "titlePadding": 20}},
            "detail": {"field": "id"}
          }
        },
        {
          "data": {"values": [{"t0": -100, "t1": 400}]},
          "mark": {"type": "rect", "color": "#000"},
          "encoding": {"x": {"field": "t0", "type": "quantitative"}, "x2": {"field": "t1"}, "y": {"datum": -0.94}, "y2": {"datum": -1.0}}
        },
        {
          "data": {"values": [{}]},
          "mark": {"type": "text", "text": "Output-potent", "fontSize": 25, "baseline": "alphabetic", "align": "center", "color": "#000"},
          "encoding": {"x": {"datum": 575}, "y": {"datum": 1.014}}
        },
        {
          "data": {"values": [{}]},
          "mark": {"type": "text", "text": "b", "fontSize": 40, "fontWeight": "bold", "baseline": "alphabetic", "align": "left", "color": "#000"},
          "encoding": {"x": {"datum": -720}, "y": {"datum": 1.043}}
        }
      ]
    },
    {
      "width": 322,
      "height": 348,
      "layer": [
        {
          "data": {"name": "potentMove"},
          "transform": [
            {"flatten": ["v"]},
            {"window": [{"op": "row_number", "as": "k"}], "groupby": ["id"]},
            {"lookup": "k", "from": {"data": {"name": "gridR"}, "key": "k", "fields": ["t"]}}
          ],
          "mark": {"type": "line", "interpolate": "monotone", "color": "#000", "strokeWidth": 2.8},
          "encoding": {
            "x": {"field": "t", "type": "quantitative", "scale": {"domain": [-300, 600], "nice": false},
                  "axis": {"values": [-300, 0, 600], "labelExpr": "datum.value === 0 ? 'Move' : datum.label", "title": null, "offset": 10, "labelPadding": 10}},
            "y": {"field": "v", "type": "quantitative", "scale": {"domain": [-1, 1], "nice": false}, "axis": null},
            "detail": {"field": "id"}
          }
        },
        {
          "data": {"values": [{"t0": -50, "t1": 600}]},
          "mark": {"type": "rect", "fill": "#fff", "stroke": "#000", "strokeWidth": 1.5},
          "encoding": {"x": {"field": "t0", "type": "quantitative"}, "x2": {"field": "t1"}, "y": {"datum": -0.957}, "y2": {"datum": -1.0}}
        },
        {
          "data": {"values": [{}]},
          "mark": {"type": "text", "text": ["From", "data set NA"], "lineHeight": 30, "fontSize": 25, "baseline": "alphabetic", "align": "right", "color": "#000"},
          "encoding": {"x": {"datum": 754}, "y": {"datum": -0.634}}
        }
      ]
    }
  ]
}
